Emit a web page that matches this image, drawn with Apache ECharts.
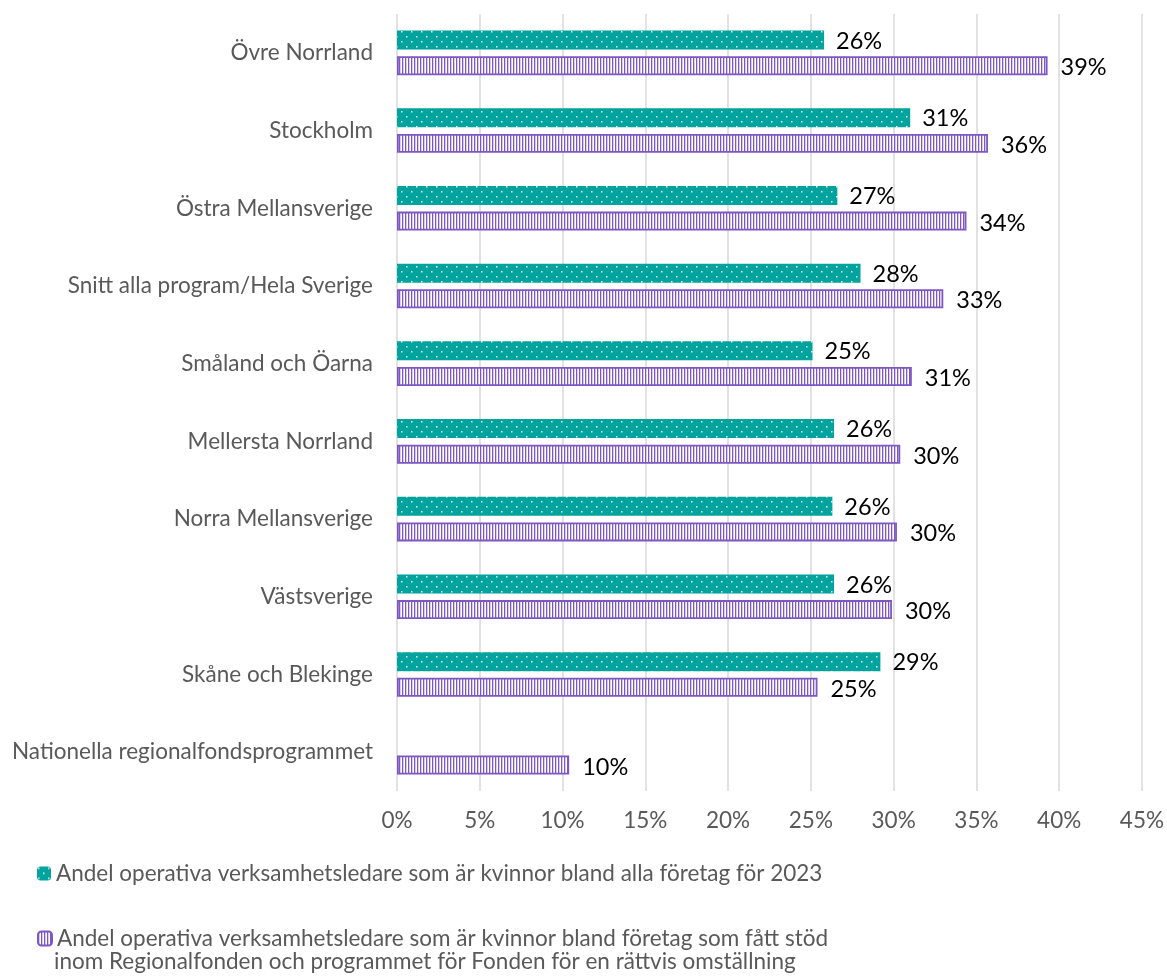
<!DOCTYPE html>
<html>
<head>
<meta charset="utf-8">
<script src="https://cdn.jsdelivr.net/npm/echarts@6/dist/echarts.min.js"></script>
<style>
  html, body { margin: 0; padding: 0; background: #fff; }
  #main { width: 1167px; height: 976px; }
</style>
</head>
<body>
<div id="main"></div>
<script>
// kategorier, uppifrån och ned
var regions = ['Övre Norrland', 'Stockholm', 'Östra Mellansverige', 'Snitt alla program/Hela Sverige',
  'Småland och Öarna', 'Mellersta Norrland', 'Norra Mellansverige', 'Västsverige',
  'Skåne och Blekinge', 'Nationella regionalfondsprogrammet'];
// andel (%) bland alla företag 2023
var allaForetag = [25.8, 31.0, 26.6, 28.0, 25.1, 26.4, 26.3, 26.4, 29.2, null];
// andel (%) bland företag med stöd
var medStod = [39.3, 35.7, 34.4, 33.0, 31.1, 30.4, 30.2, 29.9, 25.4, 10.4];
var xTicks = [0, 5, 10, 15, 20, 25, 30, 35, 40, 45];

var name1 = 'Andel operativa verksamhetsledare som är kvinnor bland alla företag för 2023';
var name2 = 'Andel operativa verksamhetsledare som är kvinnor bland företag som fått stöd';

// mönster: prickar på teal
function dotPattern() {
  var c = document.createElement('canvas');
  c.width = 10; c.height = 10;
  var ctx = c.getContext('2d');
  ctx.fillStyle = '#00A39D';
  ctx.fillRect(0, 0, 10, 10);
  ctx.fillStyle = 'rgba(255,255,255,0.9)';
  ctx.fillRect(1, 1, 1.5, 1.5);
  ctx.fillRect(6, 6, 1.5, 1.5);
  return c;
}
// mönster: lodräta lila streck
function stripePattern() {
  var c = document.createElement('canvas');
  c.width = 3; c.height = 10;
  var ctx = c.getContext('2d');
  ctx.fillStyle = '#ffffff';
  ctx.fillRect(0, 0, 3, 10);
  ctx.fillStyle = '#7E57C2';
  ctx.fillRect(0, 0, 1.3, 10);
  return c;
}

var chart = echarts.init(document.getElementById('main'));
var font = 'Lato, "Open Sans", sans-serif';
var fs = 22.5;

var option = {
  backgroundColor: '#ffffff',
  textStyle: { fontFamily: font },
  animation: false,
  grid: { left: 397, right: 24, top: 14, bottom: 185, containLabel: false },
  legend: [{
    left: 32, top: 857,
    itemWidth: 14, itemHeight: 14, itemGap: 6,
    data: [name1],
    textStyle: { color: '#595959', fontSize: fs, fontFamily: font }
  }, {
    left: 32, top: 922,
    itemWidth: 14, itemHeight: 14, itemGap: 6,
    data: [name2],
    textStyle: { color: '#595959', fontSize: fs, fontFamily: font }
  }],
  graphic: [{
    type: 'text', left: 54, top: 950,
    style: { text: 'inom Regionalfonden och programmet för Fonden för en rättvis omställning',
      fill: '#595959', fontSize: fs, fontFamily: font }
  }],
  xAxis: {
    type: 'value', min: 0, max: 45, interval: 5,
    axisLine: { show: false }, axisTick: { show: false },
    splitLine: { lineStyle: { color: '#d9d9d9', width: 1.5 } },
    axisLabel: {
      color: '#595959', fontSize: fs, margin: 18, fontFamily: font,
      formatter: function (v) { return xTicks.indexOf(v) >= 0 ? v + '%' : ''; }
    }
  },
  yAxis: {
    type: 'category', inverse: true, data: regions,
    axisLine: { show: false }, axisTick: { show: false },
    axisLabel: { color: '#595959', fontSize: fs, margin: 24, fontFamily: font }
  },
  series: [{
    name: name1, type: 'bar', data: allaForetag,
    barWidth: 19, barGap: '35%',
    itemStyle: { color: { image: dotPattern(), repeat: 'repeat' } },
    label: {
      show: true, position: 'right', distance: 12, offset: [0, 1],
      color: '#000', fontSize: 23.5, fontFamily: font,
      formatter: function (p) { return Math.round(p.value) + '%'; }
    }
  }, {
    name: name2, type: 'bar', data: medStod,
    barWidth: 19,
    itemStyle: { color: { image: stripePattern(), repeat: 'repeat' }, borderColor: '#7E57C2', borderWidth: 1.8 },
    label: {
      show: true, position: 'right', distance: 13, offset: [0, 2],
      color: '#000', fontSize: 23.5, fontFamily: font,
      formatter: function (p) { return Math.round(p.value) + '%'; }
    }
  }]
};
chart.setOption(option);
</script>
</body>
</html>
